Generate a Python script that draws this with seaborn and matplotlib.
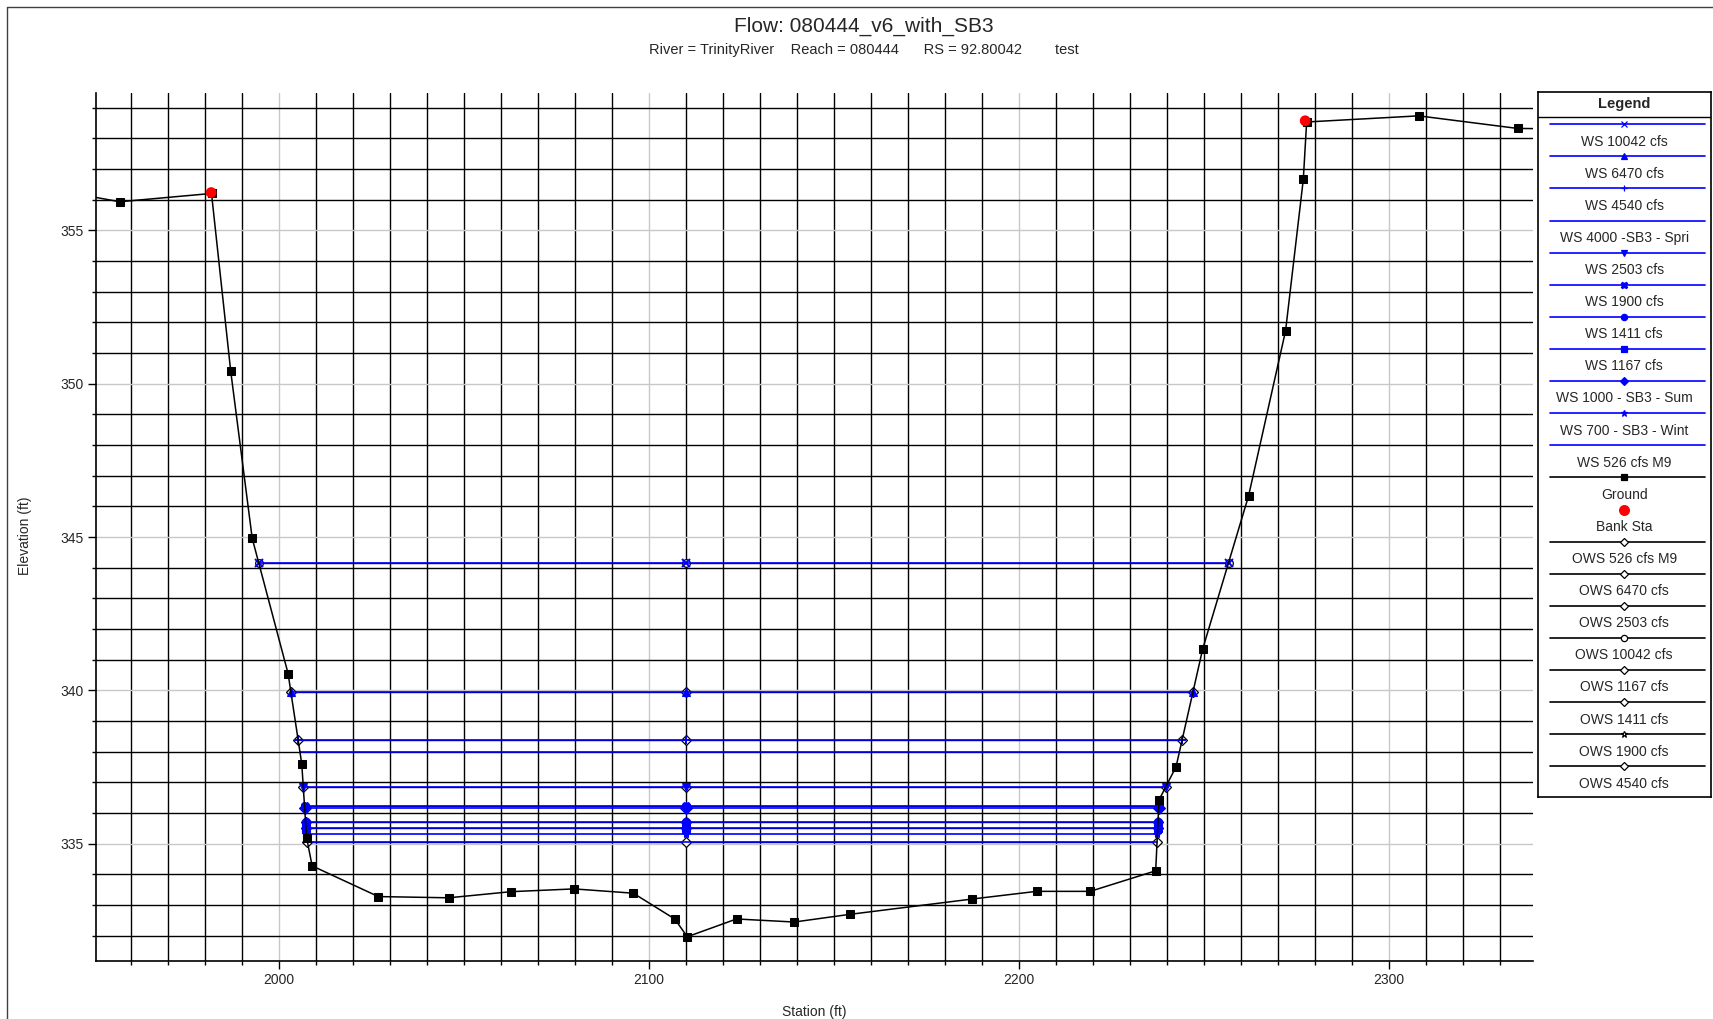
import matplotlib
matplotlib.use("Agg")
import matplotlib.pyplot as plt
from matplotlib.lines import Line2D
from matplotlib.ticker import MultipleLocator

import seaborn as sns
import numpy as np
import pandas as pd

sns.set_style("white")
plt.rcParams["font.family"] = ["Liberation Sans", "DejaVu Sans"]

# ------------------------------------------------------------------
# Data
# ------------------------------------------------------------------
ground_sta = [1940.0, 1956.9, 1981.7, 1986.9, 1992.7, 2002.4, 2006.1, 2007.4, 2008.9,
              2026.8, 2045.8, 2062.7, 2079.7, 2095.7, 2106.9, 2110.3, 2123.6, 2139.2,
              2154.2, 2187.3, 2204.7, 2219.2, 2236.9, 2237.8, 2242.4, 2249.6, 2262.0,
              2272.0, 2276.8, 2277.7, 2308.0, 2334.7, 2350.0]
ground_elev = [356.30, 355.93, 356.20, 350.40, 344.96, 340.55, 337.60, 335.20, 334.28,
               333.28, 333.24, 333.44, 333.53, 333.39, 332.55, 331.97, 332.55, 332.45,
               332.70, 333.20, 333.45, 333.45, 334.12, 336.43, 337.51, 341.35, 346.34,
               351.72, 356.66, 358.53, 358.73, 358.32, 358.30]

bank_sta = [1981.6, 2277.3]
bank_elev = [356.23, 358.57]

ws_names = ["WS 10042 cfs", "WS 6470 cfs", "WS 4540 cfs", "WS 4000 -SB3 - Spri",
            "WS 2503 cfs", "WS 1900 cfs", "WS 1411 cfs", "WS 1167 cfs",
            "WS 1000 - SB3 - Sum", "WS 700 - SB3 - Wint", "WS 526 cfs M9"]
ws_elev = [344.17, 339.96, 338.39, 338.00, 336.86, 336.23, 335.70, 335.51,
           336.16, 335.31, 335.06]
ws_markers = ["x", "^", "+", None, "v", "X", "o", "s", "D", "*", None]

ows_names = ["OWS 526 cfs M9", "OWS 6470 cfs", "OWS 2503 cfs", "OWS 10042 cfs",
             "OWS 1167 cfs", "OWS 1411 cfs", "OWS 1900 cfs", "OWS 4540 cfs"]
ows_elev = [335.06, 339.96, 336.86, 344.17, 335.51, 335.70, 336.23, 338.39]
ows_markers = ["D", "D", "D", "o", "D", "D", "*", "D"]

ws_mid_sta = 2110.0

# ------------------------------------------------------------------
# Water surface extents: where each level meets the channel banks
# ------------------------------------------------------------------
ground = pd.DataFrame({"sta": ground_sta, "elev": ground_elev})
left_bank = ground[(ground.sta >= 1981) & (ground.sta <= 2009)]
right_bank = ground[(ground.sta >= 2236) & (ground.sta <= 2278)]


def ws_extent(level):
    x_left = np.interp(level, left_bank.elev[::-1], left_bank.sta[::-1])
    x_right = np.interp(level, right_bank.elev, right_bank.sta)
    return [x_left, ws_mid_sta, x_right]


# ------------------------------------------------------------------
# Figure
# ------------------------------------------------------------------
W, H = 1713, 1019
fig = plt.figure(figsize=(W / 100, H / 100), dpi=100)
ax = fig.add_axes([95.7 / W, 1 - 961.3 / H, (1532.7 - 95.7) / W, (961.3 - 93) / H])

BLUE = "#0000ff"

for name, lev, mk in zip(ows_names, ows_elev, ows_markers):
    sns.lineplot(x=ws_extent(lev), y=[lev] * 3, ax=ax, color="black", lw=1.0,
                 marker=mk, markersize=5.5, markerfacecolor="white",
                 markeredgecolor="black", markeredgewidth=0.9,
                 sort=False, estimator=None, zorder=2)

for name, lev, mk in zip(ws_names, ws_elev, ws_markers):
    sns.lineplot(x=ws_extent(lev), y=[lev] * 3, ax=ax, color=BLUE, lw=1.2,
                 marker=mk, markersize=6, markeredgecolor=BLUE,
                 markeredgewidth=1.4 if mk in ("x", "+") else 0.8,
                 sort=False, estimator=None, zorder=3)

sns.lineplot(data=ground, x="sta", y="elev", ax=ax, color="black", lw=1.1,
             marker="s", markersize=5.5, markeredgecolor="black",
             sort=False, estimator=None, zorder=4)

sns.scatterplot(x=bank_sta, y=bank_elev, ax=ax, color="red", s=60,
                edgecolor="none", zorder=5)

ax.set_xlim(1950.4, 2338.8)
ax.set_ylim(331.17, 359.475)

ax.xaxis.set_major_locator(MultipleLocator(100))
ax.xaxis.set_minor_locator(MultipleLocator(10))
ax.yaxis.set_major_locator(MultipleLocator(5))
ax.yaxis.set_minor_locator(MultipleLocator(1))
ax.grid(which="major", color="#c8c8c8", lw=1.0)
ax.grid(which="minor", color="black", lw=1.0)
ax.set_axisbelow(True)

for side in ("top", "right"):
    ax.spines[side].set_visible(False)
for side in ("left", "bottom"):
    ax.spines[side].set_color("black")
    ax.spines[side].set_linewidth(1.2)

ax.tick_params(which="both", bottom=True, left=True, direction="out",
               color="black", width=1.0)
ax.tick_params(which="major", length=6, labelsize=10, pad=2.5)
ax.tick_params(which="minor", length=3)

ax.set_xlabel("Station (ft)", fontsize=10)
ax.set_ylabel("Elevation (ft)", fontsize=10)
ax.xaxis.set_label_coords(0.5, -0.050)
ax.yaxis.set_label_coords(-0.044, 0.49)

# titles
fig.text(864 / W, 1 - 31.7 / H, "Flow: 080444_v6_with_SB3", ha="center",
         va="baseline", fontsize=15)
fig.text(864 / W, 1 - 54.3 / H,
         "River = TrinityRiver    Reach = 080444      RS = 92.80042        test",
         ha="center", va="baseline", fontsize=10.5)

# outer frame (top and left edges show)
fig.add_artist(Line2D([7 / W, 1], [1 - 7 / H, 1 - 7 / H], transform=fig.transFigure,
                      color="#404040", lw=1.0))
fig.add_artist(Line2D([7 / W, 7 / W], [0, 1 - 7 / H], transform=fig.transFigure,
                      color="#404040", lw=1.0))

# ------------------------------------------------------------------
# Legend box (line sample above each label, as in the original)
# ------------------------------------------------------------------
lx0, ly0, lw_, lh_ = 1537.7, 92.3, 173.0, 704.4
lax = fig.add_axes([lx0 / W, 1 - (ly0 + lh_) / H, lw_ / W, lh_ / H])
lax.set_xlim(0, lw_)
lax.set_ylim(lh_, 0)
lax.set_xticks([])
lax.set_yticks([])
for sp in lax.spines.values():
    sp.set_visible(True)
    sp.set_color("black")
    sp.set_linewidth(1.2)

lax.text(lw_ / 2, 12, "Legend", ha="center", va="center", fontsize=10.5,
         fontweight="bold")
lax.axhline(24.4, color="black", lw=1.0)

entries = []
for name, mk in zip(ws_names, ws_markers):
    entries.append((name, BLUE, mk, True, BLUE))
entries.append(("Ground", "black", "s", True, "black"))
entries.append(("Bank Sta", "red", "o", False, "red"))
for name, mk in zip(ows_names, ows_markers):
    entries.append((name, "black", mk, True, "white"))

for i, (name, col, mk, has_line, face) in enumerate(entries):
    y = 32.0 + i * 32.1
    if has_line:
        lax.plot([12.3, 167.3], [y, y], color=col, lw=1.2)
    if mk is not None:
        lax.plot([lw_ / 2], [y], marker=mk, color=col, markerfacecolor=face,
                 markeredgecolor=col, markersize=7 if name == "Bank Sta" else 4.5,
                 markeredgewidth=0.9, lw=0)
    lax.text(lw_ / 2, y + 17.4, name, ha="center", va="center", fontsize=10)

fig.savefig("out.png", dpi=100)
plt.close(fig)
